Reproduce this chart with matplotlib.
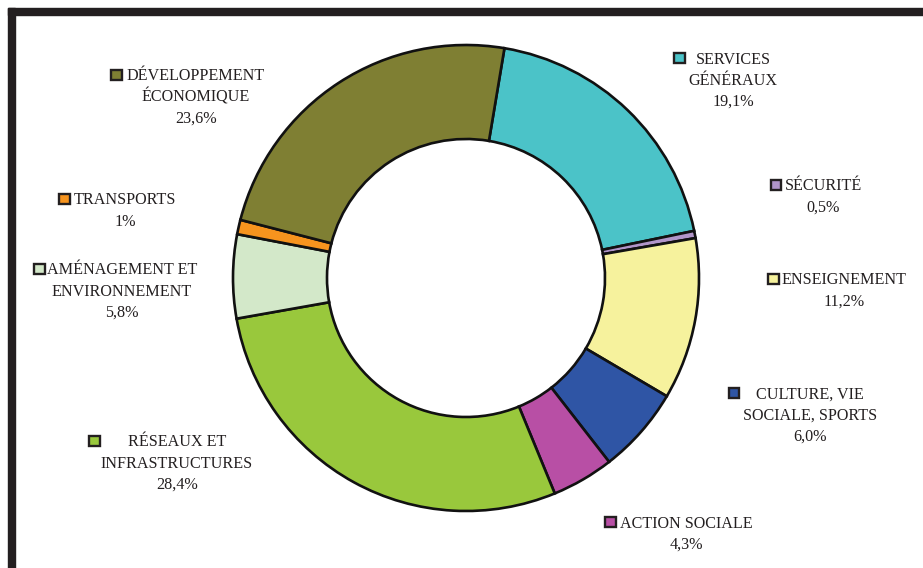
import matplotlib
matplotlib.use("Agg")
import matplotlib.pyplot as plt
from matplotlib.patches import Rectangle

# ---- data ----
categories = ["SERVICES GÉNÉRAUX", "SÉCURITÉ", "ENSEIGNEMENT", "CULTURE, VIE SOCIALE, SPORTS",
              "ACTION SOCIALE", "RÉSEAUX ET INFRASTRUCTURES", "AMÉNAGEMENT ET ENVIRONNEMENT",
              "TRANSPORTS", "DÉVELOPPEMENT ÉCONOMIQUE"]
values = [19.1, 0.5, 11.2, 6.0, 4.3, 28.4, 5.8, 1.0, 23.6]
value_labels = ["19,1%", "0,5%", "11,2%", "6,0%", "4,3%", "28,4%", "5,8%", "1%", "23,6%"]
label_lines = [["SERVICES", "GÉNÉRAUX"], ["SÉCURITÉ"], ["ENSEIGNEMENT"], ["CULTURE, VIE", "SOCIALE, SPORTS"],
               ["ACTION SOCIALE"], ["RÉSEAUX ET", "INFRASTRUCTURES"], ["AMÉNAGEMENT ET", "ENVIRONNEMENT"],
               ["TRANSPORTS"], ["DÉVELOPPEMENT", "ÉCONOMIQUE"]]
colors = ["#4bc3c8", "#b195c9", "#f6f29d", "#2f55a5", "#b84fa5", "#99c83c", "#d3e8c9", "#f7941e", "#7f7f33"]

# label placement (x centre, y of first line, measured from top) and key gap, styling only
label_pos = [(733, 58), (823, 185), (844, 279), (810, 393), (686, 522),
             (177, 441), (122, 269), (125, 199), (196, 75)]
key_gap = [11, 3, 3, 17, 4, 28, 2, 4, 5]

W, H = 923, 568
fig = plt.figure(figsize=(W / 100, H / 100), dpi=100)
ax = fig.add_axes([0, 0, 1, 1])

cx, cy, r_out, r_in = 466, H - 278, 233, 139
ax.pie(values, colors=colors, startangle=80.5, counterclock=False, radius=r_out,
       center=(cx, cy), frame=True,
       wedgeprops=dict(width=r_out - r_in, edgecolor="#111111", linewidth=1.9))
ax.set_xlim(0, W)
ax.set_ylim(0, H)
ax.set_aspect("equal")
ax.axis("off")

# frame (top and left)
frame_col = "#231f20"
ax.add_patch(Rectangle((8, H - 15), W - 8, 7, color=frame_col, zorder=5))
ax.add_patch(Rectangle((8, 0), 7, H - 8, color=frame_col, zorder=5))

txt_col = "#231f20"
fs = 11.6
line_h = 21.3
cap_half = 5.5
fig.canvas.draw()
renderer = fig.canvas.get_renderer()
for lines, val, (x, y0), col, gap in zip(label_lines, value_labels, label_pos, colors, key_gap):
    all_lines = lines + [val]
    first = None
    for i, ln in enumerate(all_lines):
        yy = H - (y0 + i * line_h) - cap_half
        t = ax.text(x, yy, ln, ha="center", va="baseline", fontsize=fs,
                    family="Liberation Serif", color=txt_col)
        if i == 0:
            first = t
    bb = first.get_window_extent(renderer=renderer)
    sq = 10.5
    ax.add_patch(Rectangle((bb.x0 - gap - sq, H - y0 - sq / 2), sq, sq,
                           facecolor=col, edgecolor="#231f20", linewidth=1.7, zorder=6))

fig.savefig("out.png", dpi=100)
